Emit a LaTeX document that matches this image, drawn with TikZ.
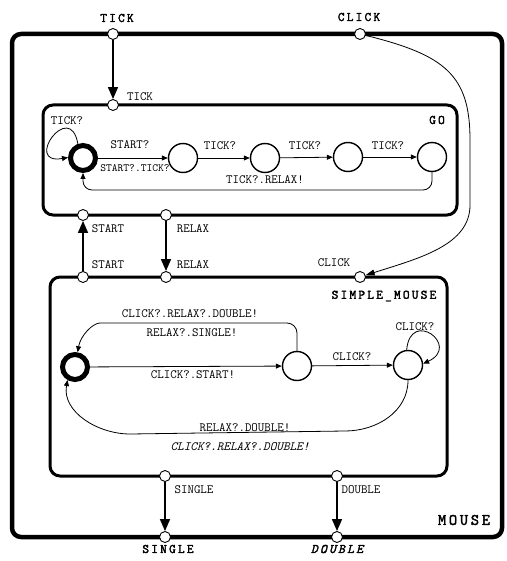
\documentclass[tikz,border=0pt]{standalone}
\usepackage{fontspec}
\setmonofont{Latin Modern Mono}
\newfontfamily\namefont{Latin Modern Mono}[LetterSpace=17, FakeBold=2.2]
\usetikzlibrary{arrows.meta, positioning, calc}

\begin{document}
\begin{tikzpicture}[x=1pt, y=-1pt,
  box/.style={line width=3pt, rounded corners=10pt},
  port/.style={circle, draw, fill=white, line width=0.9pt, minimum size=11pt, inner sep=0pt},
  state/.style={circle, draw, line width=1.4pt, minimum size=29pt, inner sep=0pt},
  initstate/.style={circle, draw, line width=5pt, minimum size=25pt, inner sep=0pt},
  bigarrow/.style={line width=1.6pt, -{Triangle[length=12pt,width=10pt]}},
  trans/.style={line width=0.8pt, -{Triangle[length=6pt,width=5pt]}},
  lbl/.style={font=\ttfamily\fontsize{12.6}{14}\selectfont, inner sep=1pt},
  boxname/.style={font=\namefont\fontsize{13}{15}\selectfont, inner sep=1pt}]
  \useasboundingbox (0,0) rectangle (506,561);
  % boxes
  \draw[line width=4.5pt, rounded corners=9pt] (12,34) rectangle (502,537);
  \draw[box] (43,105) rectangle (457,215);
  \draw[box] (50,277) rectangle (447,476);
  \node[boxname] (lgo) at (437,120) {GO};
  \node[boxname] (lsimple) at (384,296) {SIMPLE\_MOUSE};
  \node[boxname, font=\namefont\fontsize{16}{18}\selectfont] (lmouse) at (464,520) {MOUSE};
  % ports
  \node[port] (otick) at (113,34) {};
  \node[port] (oclick) at (360,34) {};
  \node[port] (gtick) at (113,105) {};
  \node[port] (gstart) at (83,215) {};
  \node[port] (grelax) at (166,215) {};
  \node[port] (sstart) at (83,277) {};
  \node[port] (srelax) at (166,277) {};
  \node[port] (sclick) at (360,277) {};
  \node[port] (ssingle) at (165,476) {};
  \node[port] (sdouble) at (337,476) {};
  \node[port] (osingle) at (165,537) {};
  \node[port] (odouble) at (337,537) {};
  \node[boxname] (ltick) at (117,18) {TICK};
  \node[boxname] (lclick) at (359,17) {CLICK};
  \node[boxname] (lsingle) at (168,549) {SINGLE};
  \node[boxname, font=\namefont\itshape\fontsize{13}{15}\selectfont] (ldouble) at (337,549) {DOUBLE};
  \node[lbl] (ltickin) at (140,97) {TICK};
  \node[lbl] (lstartg) at (108,229) {START};
  \node[lbl] (lrelaxg) at (193,229) {RELAX};
  \node[lbl] (lstarts) at (108,265) {START};
  \node[lbl] (lrelaxs) at (193,265) {RELAX};
  \node[lbl] (lclicks) at (334,263) {CLICK};
  \node[lbl] (lsingles) at (194,490) {SINGLE};
  \node[lbl] (ldoubles) at (361,490) {DOUBLE};
  % signals between the boxes
  \draw[bigarrow] (otick) -- (gtick);
  \draw[bigarrow] (sstart) -- (gstart);
  \draw[bigarrow] (grelax) -- (srelax);
  \draw[bigarrow] (ssingle) -- (osingle);
  \draw[bigarrow] (sdouble) -- (odouble);
  \draw[line width=0.8pt, -{Triangle[length=9pt,width=6pt]}] (oclick) .. controls (445,55) and (470,75) .. (470,140)
    -- (470,205) .. controls (470,245) and (420,258) .. (sclick);
  % GO
  \node[initstate] (g0) at (83,158) {};
  \node[state] (g1) at (183,158) {};
  \node[state] (g2) at (265,158) {};
  \node[state] (g3) at (348,157) {};
  \node[state] (g4) at (432,157) {};
  \draw[trans] (g0) -- (g1);
  \draw[trans] (g1) -- (g2);
  \draw[trans] (g2) -- (g3);
  \draw[trans] (g3) -- (g4);
  \draw[trans] (g0.110) to[out=100,in=190,looseness=7] (g0.178);
  \draw[trans, rounded corners=9pt] (g4) -- ++(0,33) -| (g0);
  \node[lbl] (lg0) at (67,121) {TICK?};
  \node[lbl] (lg1) at (130,145) {START?};
  \node[lbl, font=\ttfamily\fontsize{11}{12}\selectfont] (lg1b) at (135,168) {START?.TICK?};
  \node[lbl] (lg2) at (220,146) {TICK?};
  \node[lbl] (lg3) at (305,146) {TICK?};
  \node[lbl] (lg4) at (388,146) {TICK?};
  \node[lbl] (lgback) at (265,180) {TICK?.RELAX!};
  % SIMPLE_MOUSE
  \node[initstate] (sm0) at (75,367) {};
  \node[state] (sm1) at (297,366) {};
  \node[state] (sm2) at (408,365) {};
  \draw[trans] (sm0) -- (sm1);
  \draw[trans] (sm1) -- (sm2);
  \draw[trans] (sm2.95) to[out=85,in=25,looseness=5] (sm2.5);
  \draw[trans, rounded corners=10pt] (sm1) |- (110,323) to[out=180,in=80] (sm0);
  \draw[trans] (sm2) to[out=-90,in=0] (345,431) -- (130,434) to[out=180,in=-100] (sm0.-120);
  \node[lbl] (ls1) at (190,314) {CLICK?.RELAX?.DOUBLE!};
  \node[lbl] (ls2) at (192,333) {RELAX?.SINGLE!};
  \node[lbl] (ls3) at (193,375) {CLICK?.START!};
  \node[lbl] (ls4) at (352,357) {CLICK?};
  \node[lbl] (ls5) at (415,327) {CLICK?};
  \node[lbl] (ls6) at (245,428) {RELAX?.DOUBLE!};
  \node[lbl, font=\ttfamily\itshape\fontsize{12.6}{14}\selectfont] (ls7) at (240,447) {CLICK?.RELAX?.DOUBLE!};
\end{tikzpicture}
\end{document}
